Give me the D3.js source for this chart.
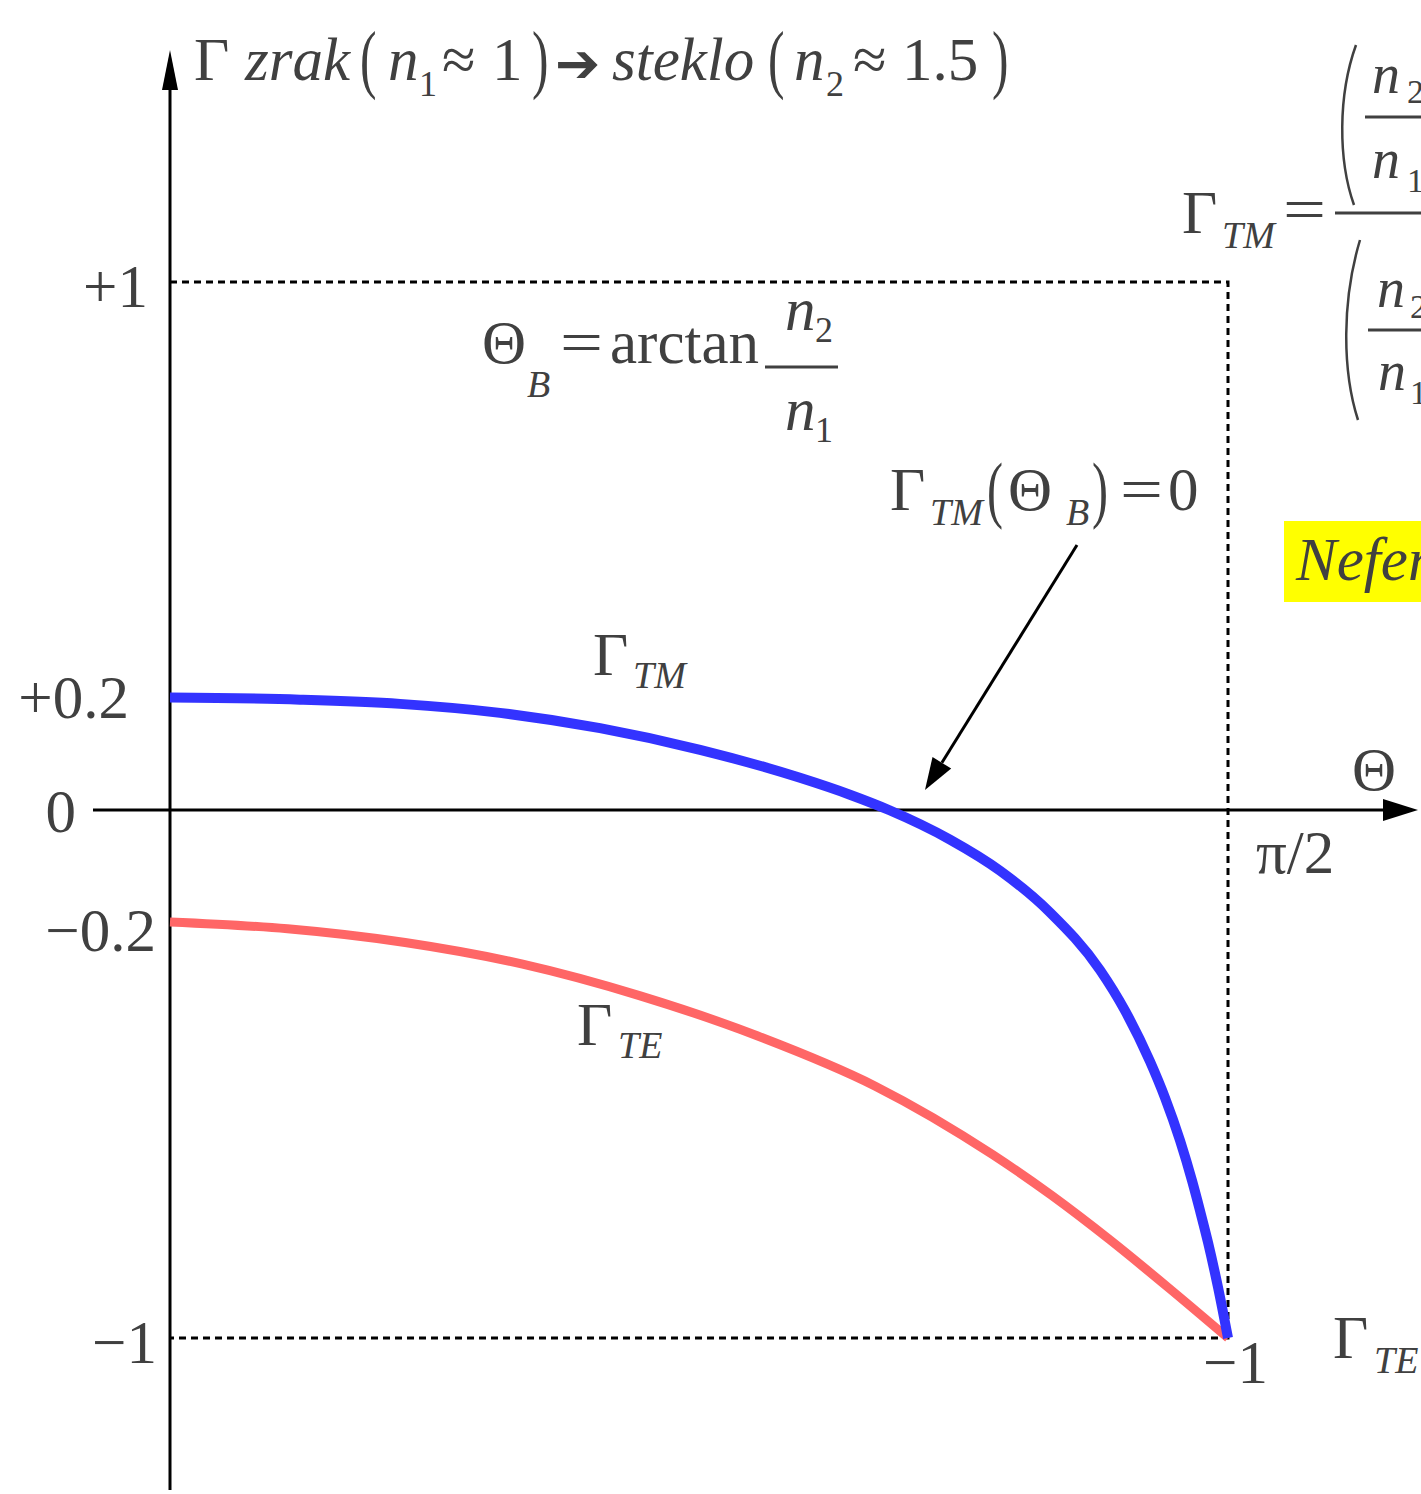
<!DOCTYPE html>
<html>
<head>
<meta charset="utf-8">
<script src="https://cdn.jsdelivr.net/npm/d3@7"></script>
<style>
  body { margin: 0; background: #fff; }
  svg { display: block; }
  text { font-family: "Liberation Serif", "Times New Roman", serif; fill: #404040; }
</style>
</head>
<body>
<svg id="chart" width="1421" height="1494"></svg>
<script>
// Reflection coefficient, air (n1 ≈ 1) into glass (n2 ≈ 1.5), versus angle of incidence in degrees
const thetaTM = [0, 11.06, 19.57, 28.07, 36.58, 45.09, 53.59, 57.84, 61.16, 66.35, 70.61, 74.86,
                 79.11, 81.24, 83.36, 84.64, 85.92, 86.94, 87.61, 88.30, 89.15, 90];
const gammaTM = [0.213, 0.209, 0.201, 0.184, 0.155, 0.114, 0.061, 0.029, 0, -0.056, -0.115, -0.194,
                 -0.303, -0.380, -0.476, -0.545, -0.626, -0.702, -0.758, -0.819, -0.904, -1.0];
const thetaTE = [0, 10, 20, 30, 40, 50, 60, 70, 75, 80, 85, 90];
const gammaTE = [-0.212, -0.225, -0.251, -0.292, -0.352, -0.428, -0.523, -0.653, -0.73, -0.815, -0.906, -1.0];

const yTickValues = [1, 0.2, 0, -0.2, -1];
const yTickLabels = ["+1", "+0.2", "0", "−0.2", "−1"];
const xTickValues = [90];
const xTickLabels = ["π/2"];

const svg = d3.select("#chart");
const x = d3.scaleLinear().domain([0, 90]).range([170, 1228]);
const y = d3.scaleLinear().domain([-1, 1]).range([1338, 282]);
const ink = "#404040";

svg.append("rect").attr("width", 1421).attr("height", 1494).attr("fill", "#fff");

// placed text pieces of the formulas
function t(str, px, py, size, italic, extra) {
  const el = svg.append("text").attr("x", px).attr("y", py)
    .attr("font-size", size).text(str);
  if (italic) el.attr("font-style", "italic");
  if (extra) extra(el);
  return el;
}
function paren(str, px, py, size) {
  return svg.append("text")
    .attr("transform", `translate(${px},${py}) scale(0.75,1.15)`)
    .attr("font-size", size).text(str);
}
function eq(px, py) {
  return svg.append("text")
    .attr("transform", `translate(${px},${py}) scale(1.25,1)`)
    .attr("font-size", 61).text("=");
}

// dotted frame at Γ = +1, Θ = π/2, Γ = −1
svg.append("path")
  .attr("d", `M${x(0)},${y(1)}H${x(90)}V${y(-1)}H${x(0)}`)
  .attr("fill", "none").attr("stroke", "#000").attr("stroke-width", 3)
  .attr("stroke-dasharray", "7,5");

// axes with arrow heads
svg.append("line").attr("x1", x(0)).attr("x2", x(0)).attr("y1", 1490).attr("y2", 80)
  .attr("stroke", "#000").attr("stroke-width", 3);
svg.append("path").attr("d", `M${x(0)},50L${x(0) - 8},90L${x(0) + 8},90Z`).attr("fill", "#000");
svg.append("line").attr("x1", 93).attr("x2", 1390).attr("y1", y(0)).attr("y2", y(0))
  .attr("stroke", "#000").attr("stroke-width", 3);
svg.append("path").attr("d", `M1418,${y(0)}L1383,${y(0) - 11}L1383,${y(0) + 11}Z`).attr("fill", "#000");

// y tick labels
const yTickPlace = [
  { end: 148, dy: 25 }, { end: 129, dy: 14 }, { end: 76, dy: 22 },
  { end: 156, dy: 35 }, { end: 157, dy: 25 }
];
yTickValues.forEach((v, i) => {
  t(yTickLabels[i], yTickPlace[i].end, y(v) + yTickPlace[i].dy, 61, false,
    el => el.attr("text-anchor", "end"));
});
// x tick label and axis name
xTickValues.forEach((v, i) => {
  t(xTickLabels[i], x(v) + 28, y(0) + 63, 61);
});
t("Θ", 1352, 790, 61);

// curves
const line = d3.line().x(d => x(d[0])).y(d => y(d[1])).curve(d3.curveMonotoneX);
svg.append("path").datum(thetaTE.map((d, i) => [d, gammaTE[i]]))
  .attr("d", line).attr("fill", "none").attr("stroke", "#ff6666").attr("stroke-width", 9);
svg.append("path").datum(thetaTM.map((d, i) => [d, gammaTM[i]]))
  .attr("d", line).attr("fill", "none").attr("stroke", "#3333ff").attr("stroke-width", 10);

// title: Γ zrak (n1 ≈ 1) → steklo (n2 ≈ 1.5)
t("Γ", 194, 80, 61);
t("zrak", 245, 80, 61, true);
paren("(", 360, 84, 66);
t("n", 388, 80, 61, true);
t("1", 419, 96, 36);
t("≈", 442, 80, 61);
t("1", 492, 80, 61);
paren(")", 532, 84, 66);
t("➔", 555, 82, 54, false, el => el.attr("font-family", "DejaVu Sans"));
t("steklo", 612, 80, 61, true);
paren("(", 768, 84, 66);
t("n", 794, 80, 61, true);
t("2", 826, 96, 36);
t("≈", 853, 80, 61);
t("1.5", 902, 80, 61);
paren(")", 992, 84, 66);

// Brewster angle
t("Θ", 482, 363, 61);
t("B", 527, 397, 38, true);
eq(560, 363);
t("arctan", 610, 363, 61);
svg.append("line").attr("x1", 765).attr("x2", 838).attr("y1", 367).attr("y2", 367)
  .attr("stroke", ink).attr("stroke-width", 3);
t("n", 785, 330, 61, true);
t("2", 815, 342, 36);
t("n", 785, 430, 61, true);
t("1", 815, 442, 36);

// Γ_TM(Θ_B) = 0 with arrow to the zero crossing
t("Γ", 890, 510, 61);
t("TM", 930, 525, 38, true);
paren("(", 987, 514, 64);
t("Θ", 1008, 510, 61);
t("B", 1066, 525, 38, true);
paren(")", 1092, 514, 64);
eq(1120, 510);
t("0", 1168, 510, 61);
{
  const sx = 1077, sy = 545, tx = 925, ty = 790;
  const len = Math.hypot(tx - sx, ty - sy);
  const ux = (tx - sx) / len, uy = (ty - sy) / len;
  const bx = tx - ux * 32, by = ty - uy * 32;
  svg.append("line").attr("x1", sx).attr("y1", sy).attr("x2", bx).attr("y2", by)
    .attr("stroke", "#000").attr("stroke-width", 3);
  svg.append("path")
    .attr("d", `M${tx},${ty}L${bx - uy * 11},${by + ux * 11}L${bx + uy * 11},${by - ux * 11}Z`)
    .attr("fill", "#000");
}

// curve labels
t("Γ", 593, 675, 61);
t("TM", 633, 688, 38, true);
t("Γ", 577, 1045, 61);
t("TE", 618, 1058, 38, true);
t("−1", 1203, 1383, 61);
t("Γ", 1333, 1358, 61);
t("TE", 1374, 1373, 38, true);

// Γ_TM formula
t("Γ", 1182, 233, 61);
t("TM", 1222, 248, 38, true);
eq(1283, 230);
svg.append("line").attr("x1", 1335).attr("x2", 1421).attr("y1", 213).attr("y2", 213)
  .attr("stroke", ink).attr("stroke-width", 3);
svg.append("path").attr("d", "M1356,45C1338,95 1338,160 1354,205")
  .attr("fill", "none").attr("stroke", ink).attr("stroke-width", 2.5);
svg.append("path").attr("d", "M1360,240C1342,300 1342,370 1358,420")
  .attr("fill", "none").attr("stroke", ink).attr("stroke-width", 2.5);
t("n", 1372, 93, 56, true);
t("2", 1407, 103, 34);
svg.append("line").attr("x1", 1365).attr("x2", 1421).attr("y1", 117).attr("y2", 117)
  .attr("stroke", ink).attr("stroke-width", 3);
t("n", 1372, 178, 56, true);
t("1", 1407, 192, 34);
t("n", 1377, 307, 56, true);
t("2", 1410, 318, 34);
svg.append("line").attr("x1", 1368).attr("x2", 1421).attr("y1", 330).attr("y2", 330)
  .attr("stroke", ink).attr("stroke-width", 3);
t("n", 1378, 390, 56, true);
t("1", 1410, 404, 34);

// highlighted note
svg.append("rect").attr("x", 1284).attr("y", 521).attr("width", 140).attr("height", 81)
  .attr("fill", "#ffff00");
t("Neferomagnetni", 1296, 580, 61, true);
</script>
</body>
</html>
